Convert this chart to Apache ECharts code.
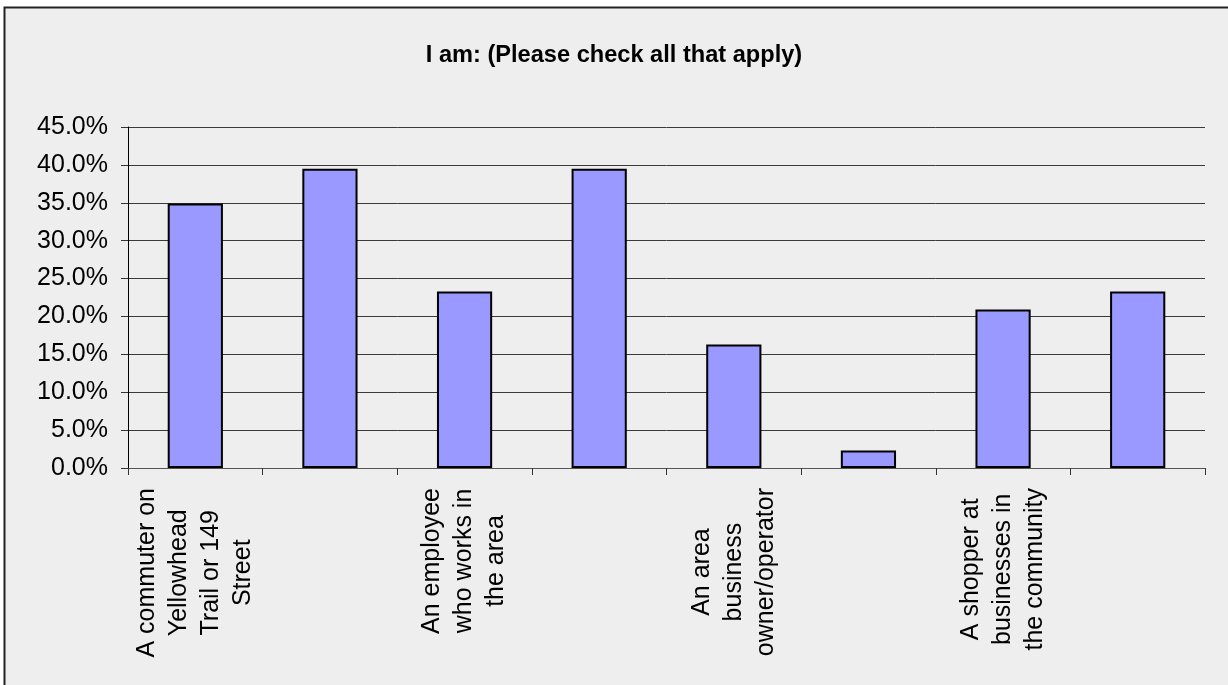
<!DOCTYPE html>
<html>
<head>
<meta charset="utf-8">
<script src="https://cdn.jsdelivr.net/npm/echarts@6/dist/echarts.min.js"></script>
<style>
  html, body { margin: 0; padding: 0; background: #ffffff; }
  #chart { width: 1228px; height: 685px; }
</style>
</head>
<body>
<div id="chart"></div>
<script>
// Survey question: respondent roles (share of respondents, multiple answers allowed)
const chartTitle = 'I am: (Please check all that apply)';
const categories = [
  'A commuter on\nYellowhead\nTrail or 149\nStreet',
  '',
  'An employee\nwho works in\nthe area',
  '',
  'An area\nbusiness\nowner/operator',
  '',
  'A shopper at\nbusinesses in\nthe community',
  ''
];
const shares = [0.349, 0.395, 0.233, 0.395, 0.163, 0.023, 0.209, 0.233];
const yMin = 0;
const yMax = 0.45;
const yStep = 0.05;

const FONT = '"Liberation Sans", Arial, sans-serif';

const chart = echarts.init(document.getElementById('chart'), null, { renderer: 'canvas' });

chart.setOption({
  backgroundColor: '#ffffff',
  animation: false,
  graphic: [{
    type: 'rect',
    z: -10,
    silent: true,
    shape: { x: 4.5, y: 7.5, width: 1300, height: 800 },
    style: { fill: '#eeeeee', stroke: '#222222', lineWidth: 2 }
  }],
  title: {
    text: chartTitle,
    left: 'center',
    top: 38,
    textStyle: {
      fontFamily: FONT,
      fontSize: 23.6,
      fontWeight: 'bold',
      color: '#000000'
    }
  },
  grid: {
    left: 128,
    right: 23,
    top: 127,
    bottom: 217,
    containLabel: false
  },
  xAxis: {
    type: 'category',
    data: categories,
    axisLine: { show: true, lineStyle: { color: '#555555', width: 1 } },
    axisTick: { show: true, alignWithLabel: false, length: 7, lineStyle: { color: '#333333', width: 1 } },
    axisLabel: {
      interval: 0,
      rotate: 90,
      margin: 20,
      color: '#000000',
      fontFamily: FONT,
      fontSize: 25,
      lineHeight: 32,
      formatter: function (value) {
        if (!value) return '';
        return value.split('\n').map(function (line) { return '{c|' + line + '}'; }).join('\n');
      },
      rich: {
        c: {
          align: 'center',
          fontFamily: FONT,
          fontSize: 25,
          lineHeight: 32,
          color: '#000000'
        }
      }
    },
    splitLine: { show: false }
  },
  yAxis: {
    type: 'value',
    min: yMin,
    max: yMax,
    interval: yStep,
    axisLine: { show: true, lineStyle: { color: '#000000', width: 1 } },
    axisTick: { show: true, inside: false, length: 7, lineStyle: { color: '#333333' } },
    axisLabel: {
      margin: 20,
      color: '#000000',
      fontFamily: FONT,
      fontSize: 25,
      formatter: function (v) { return (v * 100).toFixed(1) + '%'; }
    },
    splitLine: { show: true, lineStyle: { color: '#3a3a3a', width: 1 } }
  },
  series: [{
    type: 'bar',
    data: shares,
    barCategoryGap: '59%',
    itemStyle: {
      color: '#9999ff',
      borderColor: '#000000',
      borderWidth: 2
    },
    emphasis: { disabled: true }
  }]
});
</script>
</body>
</html>
